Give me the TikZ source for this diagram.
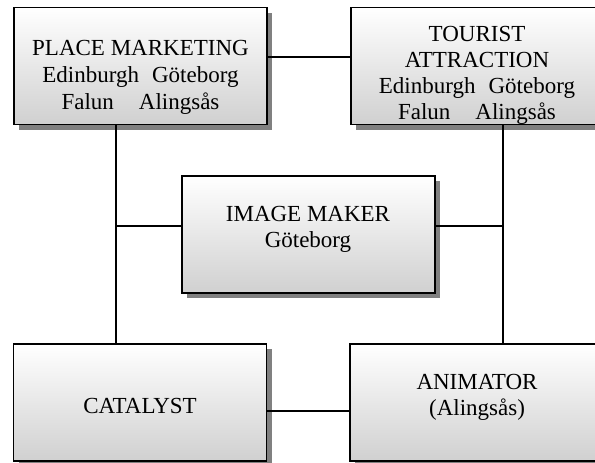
\documentclass[tikz,border=0pt]{standalone}
\usepackage{fontspec}
\setmainfont{Liberation Serif}
\usetikzlibrary{shadows}
\definecolor{shadegray}{RGB}{208,208,208}
\definecolor{shadowgray}{RGB}{128,128,128}
\begin{document}
\begin{tikzpicture}[x=1pt,y=-1pt,
  rolebox/.style={rectangle, draw=black, line width=1.2pt,
    top color=white, bottom color=shadegray,
    minimum width=253pt, minimum height=117pt, inner sep=0pt,
    drop shadow={shadow xshift=5pt, shadow yshift=-5pt, fill=shadowgray, opacity=1}},
  roletext/.style={align=center, inner sep=0pt, font=\fontsize{23}{26}\selectfont},
  link/.style={line width=1.2pt}]
\useasboundingbox (0,0) rectangle (595,463);

% the five roles
\node[rolebox] (pm) at (140.5,66) {};
\node[rolebox] (ta) at (477.5,66) {};
\node[rolebox] (im) at (308.5,234.5) {};
\node[rolebox] (ca) at (140,402.5) {};
\node[rolebox] (an) at (476.5,402.5) {};

% guide lines for the connectors
\coordinate (lv) at (116,0);
\coordinate (rv) at (503,0);
\coordinate (ty) at (0,57);
\coordinate (my) at (0,226);
\coordinate (by) at (0,411);

\draw[link] (pm.east |- ty) -- (ta.west |- ty);
\draw[link] (pm.south -| lv) -- (ca.north -| lv);
\draw[link] (ta.south -| rv) -- (an.north -| rv);
\draw[link] (im.west |- my) -- (lv |- my);
\draw[link] (im.east |- my) -- (rv |- my);
\draw[link] (ca.east |- by) -- (an.west |- by);

% labels
\node[roletext, font=\fontsize{23}{27}\selectfont] (pm-t) at (140.5,77.5)
  {PLACE MARKETING\\Edinburgh\hspace{13pt}Göteborg\\Falun\hspace{25pt}Alingsås};
\node[roletext] (ta-t) at (477,75)
  {TOURIST\\ATTRACTION\\Edinburgh\hspace{13pt}Göteborg\\Falun\hspace{25pt}Alingsås};
\node[roletext] (im-t) at (308,229) {IMAGE MAKER\\Göteborg};
\node[roletext] (ca-t) at (140,406) {CATALYST};
\node[roletext] (an-t) at (477,397) {ANIMATOR\\(Alingsås)};
\end{tikzpicture}
\end{document}
